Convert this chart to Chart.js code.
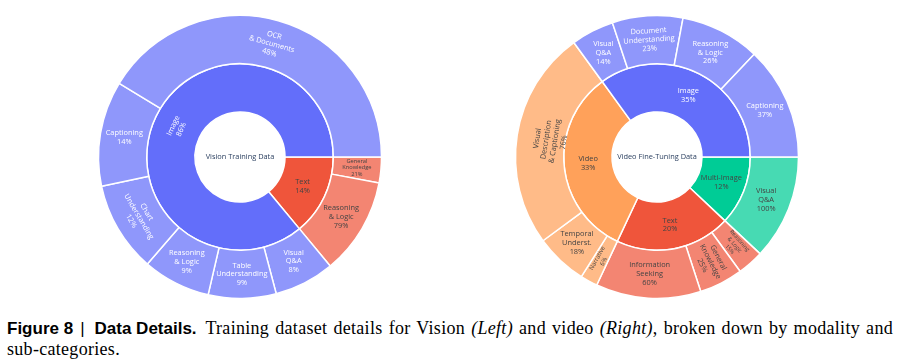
<!DOCTYPE html>
<html>
<head>
<meta charset="utf-8">
<script src="https://cdn.jsdelivr.net/npm/chart.js@4.4.1/dist/chart.umd.min.js"></script>
<style>
html,body{margin:0;padding:0;background:#fff;}
body{width:899px;height:362px;position:relative;overflow:hidden;}
canvas.c{position:absolute;top:7px;width:300px;height:300px;}
#cap{position:absolute;left:7px;top:318px;width:886px;font-family:"Liberation Serif","Times New Roman",serif;font-size:18px;letter-spacing:0.3px;line-height:21px;color:#000;}
#cap .l1{text-align:justify;text-align-last:justify;}
#cap .b{display:inline-block;font-family:"Liberation Sans",Arial,sans-serif;font-weight:bold;font-size:17px;letter-spacing:0;margin-right:3px;}
#cap .bar{display:inline-block;font-weight:normal;margin:0 10px 0 7px;}
</style>
</head>
<body>
<canvas id="left" class="c" width="300" height="300" style="left:90px"></canvas>
<canvas id="right" class="c" width="300" height="300" style="left:507px"></canvas>
<div id="cap">
  <div class="l1"><span class="b">Figure 8<span class="bar">|</span>Data Details.</span> Training dataset details for Vision <i>(Left)</i> and video <i>(Right)</i>, broken down by modality and</div>
  <div>sub-categories.</div>
</div>
<script>
// ---------------- DATA ----------------
// Left: Vision Training Data
const leftTitle = 'Vision Training Data';
const leftParents = ['Image', 'Text'];
const leftParentPct = [86, 14];
const leftImageChildren = ['OCR\n& Documents', 'Captioning', 'Chart\nUnderstanding', 'Reasoning\n& Logic', 'Table\nUnderstanding', 'Visual\nQ&A'];
const leftImagePct = [48, 14, 12, 9, 9, 8];
const leftTextChildren = ['Reasoning\n& Logic', 'General\nKnowledge'];
const leftTextPct = [79, 21];

// Right: Video Fine-Tuning Data
const rightTitle = 'Video Fine-Tuning Data';
const rightParents = ['Image', 'Video', 'Text', 'Multi-Image'];
const rightParentPct = [35, 33, 20, 12];
const rightImageChildren = ['Captioning', 'Reasoning\n& Logic', 'Document\nUnderstanding', 'Visual\nQ&A'];
const rightImagePct = [37, 26, 23, 14];
const rightVideoChildren = ['Visual\nDescription\n& Captioning', 'Temporal\nUnderst.', 'Narrative'];
const rightVideoPct = [76, 18, 6];
const rightTextChildren = ['Information\nSeeking', 'General\nKnowledge', 'Reasoning\n& Logic'];
const rightTextPct = [60, 25, 15];
const rightMultiChildren = ['Visual\nQ&A'];
const rightMultiPct = [100];

// ---------------- STYLE ----------------
const parentColors = { 'Image': '#636efa', 'Text': '#ef553b', 'Video': '#ffa15a', 'Multi-Image': '#00cc96' };
const whiteTextFamilies = ['Image'];
const FONT = '"Open Sans", "DejaVu Sans", sans-serif';
const BASE_SIZE = 7.4;
// orientation: h = horizontal, t = tangential, r = radial; optional size / radial fraction
const leftInnerStyle = [{ o: 't' }, { o: 'h' }];
const leftOuterStyle = [
  [{ o: 't' }, { o: 'h' }, { o: 't' }, { o: 'h' }, { o: 'h' }, { o: 'h' }],
  [{ o: 'h' }, { o: 'h', s: 5.7 }]
];
const rightInnerStyle = [{ o: 'h' }, { o: 'h' }, { o: 'h' }, { o: 'h' }];
const rightOuterStyle = [
  [{ o: 'h' }, { o: 'h' }, { o: 't' }, { o: 'h' }],
  [{ o: 't', rf: 0.3 }, { o: 'h' }, { o: 'r', s: 6 }],
  [{ o: 'h' }, { o: 'r' }, { o: 'r', s: 5.5 }],
  [{ o: 'h' }]
];

function lighten(hex, a) {
  const n = parseInt(hex.slice(1), 16);
  const r = (n >> 16) & 255, g = (n >> 8) & 255, b = n & 255;
  const f = v => Math.round(v * a + 255 * (1 - a));
  return 'rgb(' + f(r) + ',' + f(g) + ',' + f(b) + ')';
}

function buildSunburst(parents, parentPct, childLists, childPctLists, innerStyle, outerStyle) {
  // Plotly draws counter-clockwise from 3 o'clock; Chart.js draws clockwise,
  // so the order is reversed.
  const inner = { data: [], backgroundColor: [], texts: [], styles: [] };
  const outer = { data: [], backgroundColor: [], texts: [], styles: [] };
  for (let p = parents.length - 1; p >= 0; p--) {
    const name = parents[p];
    const col = parentColors[name];
    const txtCol = whiteTextFamilies.includes(name) ? '#ffffff' : '#444444';
    inner.data.push(parentPct[p]);
    inner.backgroundColor.push(col);
    inner.texts.push(name + '\n' + parentPct[p] + '%');
    inner.styles.push(Object.assign({ c: txtCol }, innerStyle[p]));
    for (let c = childLists[p].length - 1; c >= 0; c--) {
      outer.data.push(parentPct[p] * childPctLists[p][c] / 100);
      outer.backgroundColor.push(lighten(col, 0.72));
      outer.texts.push(childLists[p][c] + '\n' + childPctLists[p][c] + '%');
      outer.styles.push(Object.assign({ c: txtCol }, outerStyle[p][c]));
    }
  }
  return [outer, inner];
}

const labelPlugin = {
  id: 'sunLabels',
  afterDatasetsDraw(chart) {
    const ctx = chart.ctx;
    chart.data.datasets.forEach((ds, di) => {
      const meta = chart.getDatasetMeta(di);
      meta.data.forEach((arc, i) => {
        const p = arc.getProps(['x', 'y', 'startAngle', 'endAngle', 'innerRadius', 'outerRadius'], true);
        const st = ds.styles[i];
        const mid = (p.startAngle + p.endAngle) / 2;
        const rf = st.rf !== undefined ? st.rf : 0.5;
        const r = p.innerRadius + (p.outerRadius - p.innerRadius) * rf;
        const cx = p.x + r * Math.cos(mid), cy = p.y + r * Math.sin(mid);
        let rot = 0;
        if (st.o === 't') rot = mid + Math.PI / 2;
        else if (st.o === 'r') rot = mid;
        while (rot > Math.PI / 2) rot -= Math.PI;
        while (rot <= -Math.PI / 2) rot += Math.PI;
        const size = st.s || BASE_SIZE;
        const lh = size * 1.2;
        const lines = ds.texts[i].split('\n');
        ctx.save();
        ctx.translate(cx, cy);
        ctx.rotate(rot);
        ctx.font = size + 'px ' + FONT;
        ctx.fillStyle = st.c;
        ctx.textAlign = 'center';
        ctx.textBaseline = 'middle';
        lines.forEach((ln, k) => ctx.fillText(ln, 0, (k - (lines.length - 1) / 2) * lh));
        ctx.restore();
      });
    });
    // centre (root) label
    const m = chart.getDatasetMeta(0).data[0];
    if (m) {
      const c = m.getProps(['x', 'y'], true);
      ctx.save();
      ctx.font = BASE_SIZE + 'px ' + FONT;
      ctx.fillStyle = '#2a3f5f';
      ctx.textAlign = 'center';
      ctx.textBaseline = 'middle';
      ctx.fillText(chart.options.plugins.rootLabel.text, c.x, c.y);
      ctx.restore();
    }
  }
};

function makeChart(id, title, rings) {
  new Chart(document.getElementById(id), {
    type: 'doughnut',
    data: {
      labels: rings[0].texts,
      datasets: rings.map(r => ({
        data: r.data,
        backgroundColor: r.backgroundColor,
        borderColor: '#ffffff',
        borderWidth: 1.5,
        texts: r.texts,
        styles: r.styles
      }))
    },
    options: {
      responsive: false,
      animation: false,
      events: [],
      rotation: 90,
      radius: 141.5,
      cutout: 47.5,
      layout: { padding: 0 },
      plugins: {
        legend: { display: false },
        tooltip: { enabled: false },
        rootLabel: { text: title }
      }
    },
    plugins: [labelPlugin]
  });
}

makeChart('left', leftTitle, buildSunburst(
  leftParents, leftParentPct,
  [leftImageChildren, leftTextChildren],
  [leftImagePct, leftTextPct],
  leftInnerStyle, leftOuterStyle));

makeChart('right', rightTitle, buildSunburst(
  rightParents, rightParentPct,
  [rightImageChildren, rightVideoChildren, rightTextChildren, rightMultiChildren],
  [rightImagePct, rightVideoPct, rightTextPct, rightMultiPct],
  rightInnerStyle, rightOuterStyle));
</script>
</body>
</html>
